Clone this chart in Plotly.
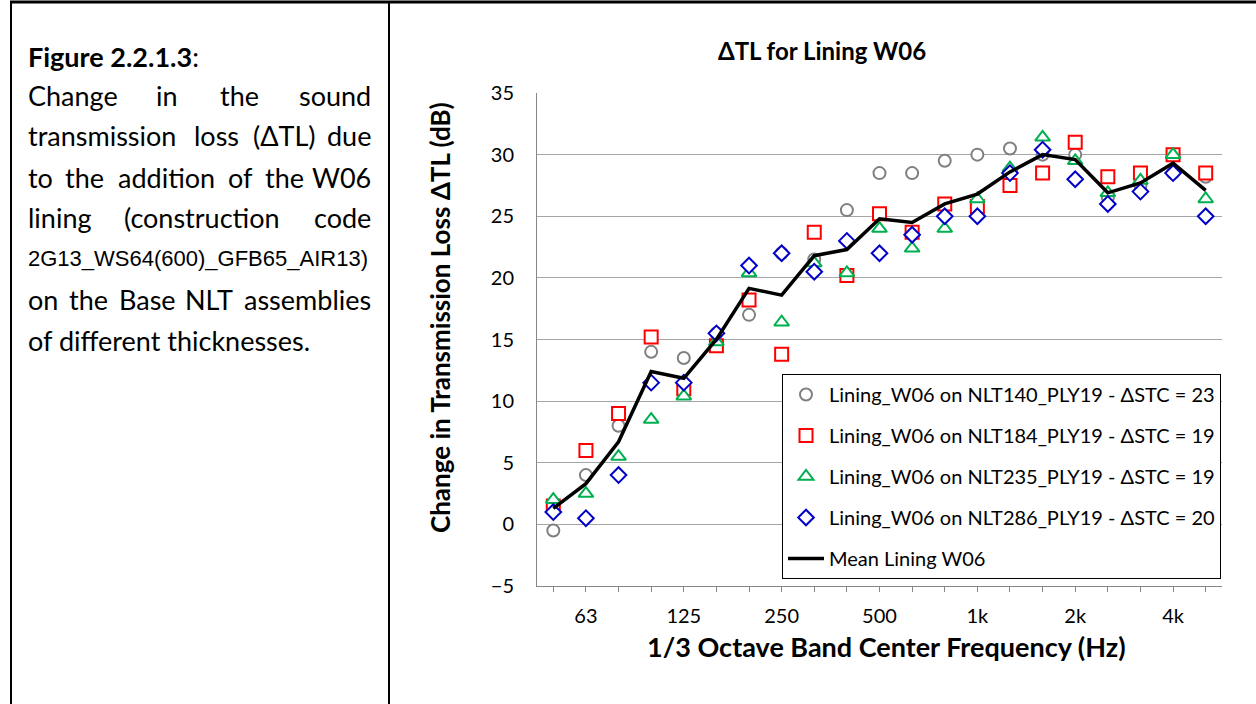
import plotly.graph_objects as go

W, H = 1256, 704

freq_labels = ["50", "63", "80", "100", "125", "160", "200", "250", "315", "400", "500",
               "630", "800", "1k", "1.25k", "1.6k", "2k", "2.5k", "3.15k", "4k", "5k"]
shown_ticks = ["63", "125", "250", "500", "1k", "2k", "4k"]

nlt140 = [-0.5, 4.0, 8.0, 14.0, 13.5, 15.5, 17.0, 22.0, 21.5, 25.5, 28.5,
          28.5, 29.5, 30.0, 30.5, 30.0, 30.0, 26.5, 27.5, 28.5, 28.2]
nlt184 = [1.5, 6.0, 9.0, 15.2, 11.0, 14.5, 18.2, 13.8, 23.7, 20.2, 25.2,
          23.7, 26.0, 25.8, 27.5, 28.5, 31.0, 28.2, 28.5, 30.0, 28.5]
nlt235 = [2.0, 2.5, 5.5, 8.5, 10.4, 14.8, 20.4, 16.4, 21.2, 20.4, 24.0,
          22.4, 24.0, 26.4, 28.9, 31.4, 29.5, 26.9, 27.9, 30.0, 26.4]
nlt286 = [1.0, 0.5, 4.0, 11.5, 11.5, 15.5, 21.0, 22.0, 20.5, 23.0, 22.0,
          23.5, 25.0, 25.0, 28.5, 30.4, 28.0, 26.0, 27.0, 28.5, 25.0]
mean_w06 = [1.3, 3.3, 6.7, 12.4, 11.85, 15.0, 19.15, 18.6, 21.8, 22.3, 24.8,
            24.5, 26.0, 26.8, 28.6, 30.0, 29.6, 26.9, 27.7, 29.3, 27.1]

series_names = ["Lining_W06 on NLT140_PLY19 - ΔSTC = 23",
                "Lining_W06 on NLT184_PLY19 - ΔSTC = 19",
                "Lining_W06 on NLT235_PLY19 - ΔSTC = 19",
                "Lining_W06 on NLT286_PLY19 - ΔSTC = 20"]
mean_name = "Mean Lining W06"

FONT = "Lato, Carlito, Calibri, 'Open Sans', sans-serif"

def px(x):
    return x / W

def py(y):
    return 1 - y / H

xi = list(range(len(freq_labels)))

fig = go.Figure()
styles = [("circle", 12, "#808080"), ("square", 13, "#FF0000"),
          ("triangle-up", 13, "#00B050"), ("diamond", 12, "#0000C8")]
for name, vals, (sym, sz, col) in zip(series_names, [nlt140, nlt184, nlt235, nlt286], styles):
    fig.add_trace(go.Scatter(
        x=xi, y=vals, mode="markers", name=name, legendgroup=name,
        marker=dict(symbol=sym, size=sz, color="white", line=dict(color=col, width=2)),
    ))
fig.add_trace(go.Scatter(
    x=xi, y=mean_w06, mode="lines", name=mean_name, legendgroup=mean_name,
    line=dict(color="black", width=3.5),
))

ticktext = [f if f in shown_ticks else "" for f in freq_labels]

fig.update_layout(
    width=W, height=H, autosize=False,
    margin=dict(l=0, r=0, t=0, b=0),
    paper_bgcolor="white", plot_bgcolor="white",
    font=dict(family=FONT, size=20, color="black"),
    title=dict(text="<b>ΔTL for Lining W06</b>", x=px(822), y=py(52),
               xanchor="center", yanchor="middle", xref="paper", yref="paper",
               font=dict(family=FONT, size=24, color="black")),
    xaxis=dict(domain=[px(537), px(1222)], range=[-0.5, len(freq_labels) - 0.5],
               tickmode="array", tickvals=xi, ticktext=ticktext,
               ticks="outside", ticklen=5, tickcolor="#868686", tickwidth=1,
               showline=True, linecolor="#868686", linewidth=1,
               showgrid=False, zeroline=False, automargin=False,
               ticklabelstandoff=7,
               tickfont=dict(family=FONT, size=20, color="black")),
    yaxis=dict(domain=[py(586), py(93)], range=[-5, 35], dtick=5, tick0=0,
               showline=True, linecolor="#868686", linewidth=1,
               showgrid=True, gridcolor="#A6A6A6", gridwidth=1,
               zeroline=False, ticks="", automargin=False,
               ticklabelstandoff=18,
               tickfont=dict(family=FONT, size=20, color="black")),
    legend=dict(x=px(782), y=py(374), xanchor="left", yanchor="top",
                bgcolor="white", bordercolor="black", borderwidth=1,
                font=dict(family=FONT, size=20, color="black"),
                tracegroupgap=12, itemwidth=36),
    showlegend=True,
)

annotations = [
    dict(text="<b>Change in Transmission Loss ΔTL (dB)</b>", x=px(440), y=py(318),
         textangle=-90, font=dict(family=FONT, size=26, color="black")),
    dict(text="<b>1/3 Octave Band Center Frequency (Hz)</b>", x=px(886), y=py(646),
         font=dict(family=FONT, size=27, color="black")),
]

# left caption cell (justified text, placed word by word)
TF = 27
annotations.append(dict(text="<b>Figure 2.2.1.3</b>:", x=px(26), y=py(56), xanchor="left",
                        font=dict(family=FONT, size=TF, color="black")))
lines = [
    (95, [("Change", 26, "left"), ("in", 167, "center"), ("the", 239, "center"), ("sound", 373, "right")]),
    (136, [("transmission", 26, "left"), ("loss", 216, "center"), ("(ΔTL)", 284, "center"), ("due", 373, "right")]),
    (177, [("to", 26, "left"), ("the", 84, "center"), ("addition", 166, "center"), ("of", 240, "center"),
           ("the", 284, "center"), ("W06", 373, "right")]),
    (218, [("lining", 26, "left"), ("(construction", 202, "center"), ("code", 373, "right")]),
    (299, [("on", 26, "left"), ("the", 88, "center"), ("Base", 147, "center"), ("NLT", 209, "center"),
           ("assemblies", 373, "right")]),
    (340, [("of different thicknesses.", 26, "left")]),
]
for yy, words in lines:
    for w, xx, anc in words:
        annotations.append(dict(text=w, x=px(xx), y=py(yy), xanchor=anc,
                                font=dict(family=FONT, size=TF, color="black")))
annotations.append(dict(text="2G13_WS64(600)_GFB65_AIR13)", x=px(26), y=py(258), xanchor="left",
                        font=dict(family="'Liberation Sans Narrow', 'Arial Narrow', 'Liberation Sans', sans-serif",
                                  size=22, color="black")))
for a in annotations:
    a.setdefault("xref", "paper")
    a.setdefault("yref", "paper")
    a.setdefault("showarrow", False)
    a.setdefault("yanchor", "middle")
    a.setdefault("xanchor", "center")
fig.update_layout(annotations=annotations)

# table cell borders
fig.add_shape(type="line", xref="paper", yref="paper", x0=px(10), x1=1, y0=py(2), y1=py(2),
              line=dict(color="black", width=3))
fig.add_shape(type="line", xref="paper", yref="paper", x0=px(11), x1=px(11), y0=py(2), y1=0,
              line=dict(color="black", width=2))
fig.add_shape(type="line", xref="paper", yref="paper", x0=px(389), x1=px(389), y0=py(2), y1=0,
              line=dict(color="black", width=2))

fig.write_html("out.html", config={"displayModeBar": False},
               post_script="document.body.style.margin='0';document.body.style.overflow='hidden';")
